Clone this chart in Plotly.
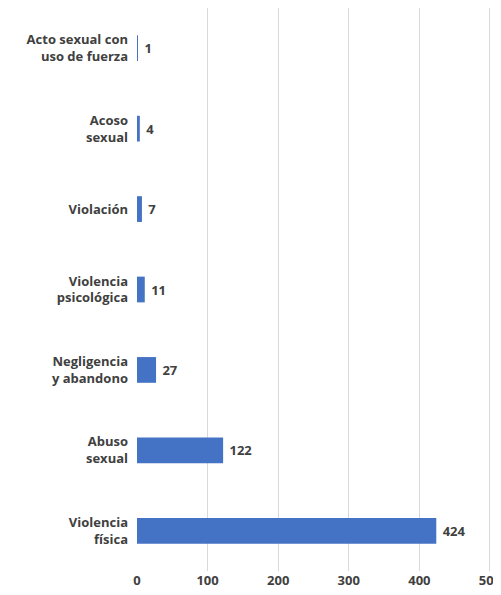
import plotly.graph_objects as go

categorias = [
    "Violencia<br>física",
    "Abuso<br>sexual",
    "Negligencia<br>y abandono",
    "Violencia<br>psicológica",
    "Violación",
    "Acoso<br>sexual",
    "Acto sexual con<br>uso de fuerza",
]
casos = [424, 122, 27, 11, 7, 4, 1]

_BAR = "#4472c4"
_TXT = "#404040"
_GRID = "#d9d9d9"
_FONT = "'Open Sans', sans-serif"

fig = go.Figure(go.Bar(
    x=casos, y=categorias, orientation="h",
    marker=dict(color=_BAR, line=dict(width=0)),
    text=casos, texttemplate=" %{x}", textposition="outside",
    textfont=dict(family=_FONT, size=13, color=_TXT, weight="bold"),
    cliponaxis=False,
))

# the page body adds an 8px margin, so the figure is a bit smaller than the window
fig.update_layout(
    width=493, height=587,
    paper_bgcolor="white", plot_bgcolor="white",
    margin=dict(l=129, r=10, t=0, b=24),
    bargap=0.68,
    showlegend=False,
    font=dict(family=_FONT, size=13, color=_TXT, weight="bold"),
    xaxis=dict(
        range=[0, 501.5], tickvals=[0, 100, 200, 300, 400, 500],
        showgrid=True, gridcolor=_GRID, gridwidth=1,
        zeroline=False, showline=False, automargin=False,
        ticklabeloverflow="allow",
        tickfont=dict(size=13, color=_TXT, weight="bold"),
    ),
    yaxis=dict(
        showgrid=False, showline=False, zeroline=False, automargin=False,
        ticklabelstandoff=8,
        tickfont=dict(size=13, color=_TXT, weight="bold"),
    ),
)

fig.write_html("out.html")
